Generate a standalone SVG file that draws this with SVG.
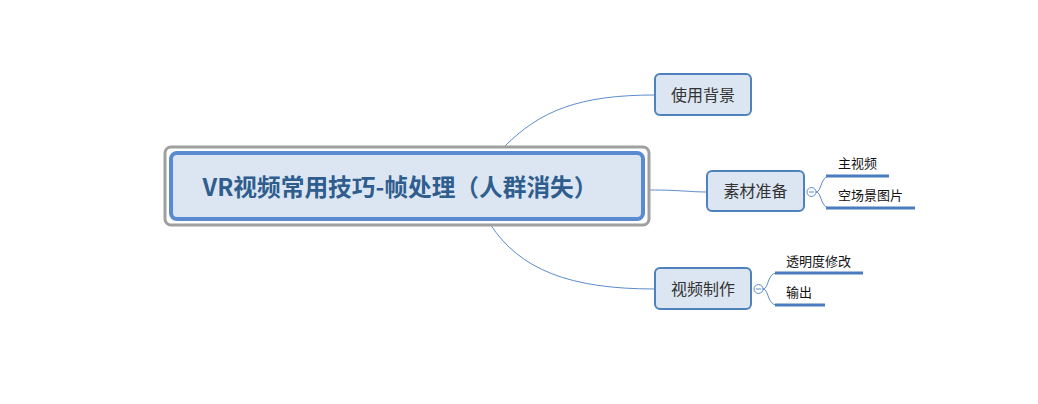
<svg xmlns="http://www.w3.org/2000/svg" width="1038" height="404" viewBox="0 0 1038 404">
<style>
.conn{fill:none;stroke:#5b8ccb;stroke-width:1}
.sub{fill:none;stroke:#4a7cc0;stroke-width:3}
.node{fill:#dce6f2;stroke:#4f81bd;stroke-width:2}
.t{font-family:"Microsoft YaHei","Noto Sans CJK SC",sans-serif;fill:#333}
.nt{font-size:16px;text-anchor:middle;fill:#333}
.st{font-size:13px;fill:#111}
</style>
<rect width="1038" height="404" fill="#fff"/>
<g id="connectors">
<path class="conn" d="M503,148 C540,110 580,95 655,95"/>
<path class="conn" d="M650,190 C680,190 690,192 707,192"/>
<path class="conn" d="M490,224 C520,270 570,289 655,289"/>
<path class="conn" d="M816,192 C822,192 820,176 830,176"/>
<path class="conn" d="M816,192 C822,192 820,208 830,208"/>
<path class="conn" d="M763,289 C769,289 767,273 777,273"/>
<path class="conn" d="M763,289 C769,289 767,305 777,305"/>
<circle cx="811.5" cy="192" r="4.5" fill="#fff" stroke="#5b8ccb" stroke-width="1"/>
<line x1="809" y1="192" x2="814" y2="192" stroke="#5b8ccb"/>
<circle cx="758.5" cy="289" r="4.5" fill="#fff" stroke="#5b8ccb" stroke-width="1"/>
<line x1="756" y1="289" x2="761" y2="289" stroke="#5b8ccb"/>
<line class="sub" x1="826" y1="176" x2="889" y2="176"/>
<line class="sub" x1="826" y1="208" x2="915" y2="208"/>
<line class="sub" x1="775" y1="273" x2="863" y2="273"/>
<line class="sub" x1="775" y1="305" x2="825" y2="305"/>
</g>
<g id="main">
<rect x="165" y="147" width="484" height="78" rx="6" fill="#fff" stroke="#a0a0a0" stroke-width="3"/>
<rect x="171" y="153" width="472" height="66" rx="6" fill="#dce6f2" stroke="#5a8ad0" stroke-width="4"/>
<text class="t" x="400" y="196" font-size="23.7" font-weight="bold" text-anchor="middle" style="fill:#2e5d8e">VR视频常用技巧-帧处理（人群消失）</text>
</g>
<g id="n1">
<rect class="node" x="655" y="74" width="96" height="41" rx="5"/>
<text class="t nt" x="703" y="101">使用背景</text>
</g>
<g id="n2">
<rect class="node" x="707" y="171" width="97" height="40" rx="5"/>
<text class="t nt" x="755.5" y="197">素材准备</text>
</g>
<g id="n3">
<rect class="node" x="655" y="268" width="96" height="41" rx="5"/>
<text class="t nt" x="703" y="295">视频制作</text>
</g>
<g id="s1"><text class="t st" x="838" y="168">主视频</text></g>
<g id="s2"><text class="t st" x="838" y="200">空场景图片</text></g>
<g id="s3"><text class="t st" x="786" y="266">透明度修改</text></g>
<g id="s4"><text class="t st" x="786" y="297">输出</text></g>
</svg>
